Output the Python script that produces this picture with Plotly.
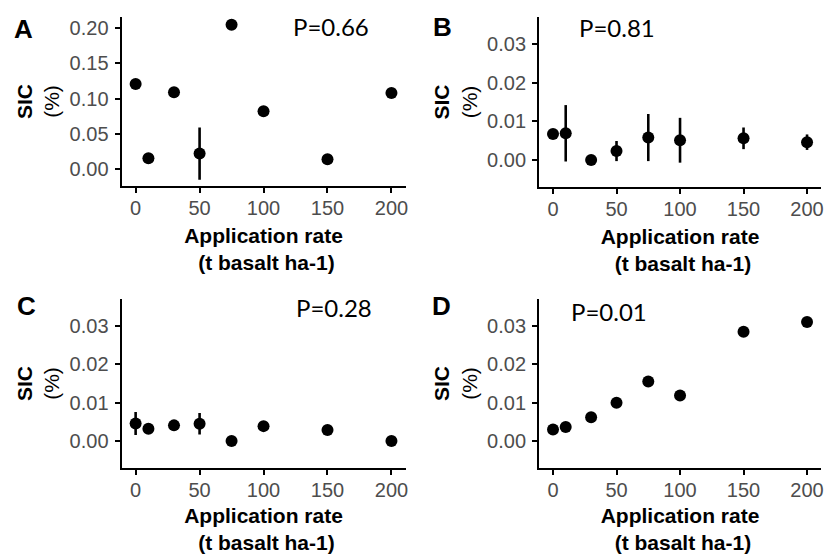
import plotly.graph_objects as go

rates = [0, 10, 30, 50, 75, 100, 150, 200]

sic_a = [0.121, 0.0155, 0.109, 0.022, 0.205, 0.082, 0.014, 0.108]
err_a = [0.0, 0.0, 0.0, 0.037, 0.0, 0.0, 0.0, 0.0]

sic_b = [0.0067, 0.0069, 0.0, 0.0023, 0.0058, 0.0051, 0.0056, 0.0046]
err_b = [0.0006, 0.0073, 0.0005, 0.0026, 0.0061, 0.0058, 0.0028, 0.0020]

sic_c = [0.0046, 0.0032, 0.0041, 0.0045, 0.0, 0.0039, 0.0029, 0.0]
err_c = [0.0030, 0.0003, 0.0003, 0.0028, 0.0003, 0.0003, 0.0003, 0.0003]

sic_d = [0.0030, 0.0037, 0.0062, 0.0100, 0.0155, 0.0119, 0.0285, 0.0310]
err_d = [0.0003, 0.0003, 0.0004, 0.0004, 0.0004, 0.0004, 0.0004, 0.0004]

panel_labels = ["A", "B", "C", "D"]
p_values = ["P=0.66", "P=0.81", "P=0.28", "P=0.01"]

ticks_a = [0, 0.05, 0.10, 0.15, 0.20]
ticks_bcd = [0, 0.01, 0.02, 0.03]
x_ticks = [0, 50, 100, 150, 200]

W, H = 829, 554

def px_x(p):
    return p / W

def px_y(p):
    return 1 - p / H

# panel plot areas in pixels: (left, right, top, bottom)
boxes = [
    (122, 407, 17, 186),
    (541, 824, 17, 187),
    (122, 407, 299, 468),
    (541, 824, 299, 468),
]
series = [(sic_a, err_a), (sic_b, err_b), (sic_c, err_c), (sic_d, err_d)]
yranges = [[-0.024, 0.216], [-0.007, 0.037], [-0.007, 0.037], [-0.007, 0.037]]
yticks = [ticks_a, ticks_bcd, ticks_bcd, ticks_bcd]
p_pos = [(332, 26), (619, 27), (335, 307), (611, 311)]
letter_pos = [(24, 29), (444, 27), (27, 306), (443, 306)]

fig = go.Figure()
layout = dict(
    width=W, height=H, margin=dict(l=0, r=0, t=0, b=0),
    paper_bgcolor="white", plot_bgcolor="white", showlegend=False,
    font=dict(family="Liberation Sans, Arial, sans-serif", color="black"),
)
annotations = []
tick_font = dict(family="Liberation Sans, Arial, sans-serif", size=20, color="#4d4d4d")
title_font = dict(family="Liberation Sans, Arial, sans-serif", size=21, color="black")

for i, ((y, e), box) in enumerate(zip(series, boxes)):
    n = "" if i == 0 else str(i + 1)
    xa, ya = "x" + n, "y" + n
    fig.add_trace(go.Scatter(
        x=rates, y=y, mode="markers", xaxis=xa, yaxis=ya,
        marker=dict(size=12, color="black"),
        error_y=dict(type="data", array=e, visible=True, color="black",
                     thickness=2.6, width=0),
    ))
    l, r, t, b = box
    layout["xaxis" + n] = dict(
        domain=[px_x(l), px_x(r)], anchor=ya, range=[-11, 211],
        tickvals=x_ticks, ticktext=[str(v) for v in x_ticks],
        showline=True, linecolor="black", linewidth=2, ticks="outside",
        ticklen=5, tickwidth=1.8, tickcolor="black", showgrid=False, zeroline=False,
        tickfont=tick_font, ticklabelstandoff=-2,
        title=dict(text="<b>Application rate</b><br><b> (t basalt ha-1)</b>",
                   font=title_font, standoff=10),
    )
    layout["yaxis" + n] = dict(
        domain=[px_y(b), px_y(t)], anchor=xa, range=yranges[i],
        tickvals=yticks[i], tickformat=".2f",
        showline=True, linecolor="black", linewidth=2, ticks="outside",
        ticklen=5, tickwidth=1.8, tickcolor="black", showgrid=False, zeroline=False,
        tickfont=tick_font, ticklabelstandoff=2,
        title=dict(text="<b>SIC</b><br>(%)", font=title_font, standoff=4),
    )
    px, py = p_pos[i]
    annotations.append(dict(
        text=p_values[i], x=px_x(px), y=px_y(py), xref="paper", yref="paper",
        xanchor="center", yanchor="middle", showarrow=False,
        font=dict(family="Lato, Open Sans, sans-serif", size=24, color="black"),
    ))
    lx, ly = letter_pos[i]
    annotations.append(dict(
        text="<b>" + panel_labels[i] + "</b>", x=px_x(lx), y=px_y(ly),
        xref="paper", yref="paper", xanchor="center", yanchor="middle",
        showarrow=False,
        font=dict(family="Liberation Sans, Arial, sans-serif", size=26, color="black"),
    ))

layout["annotations"] = annotations
fig.update_layout(**layout)
fig.write_html("out.html")
